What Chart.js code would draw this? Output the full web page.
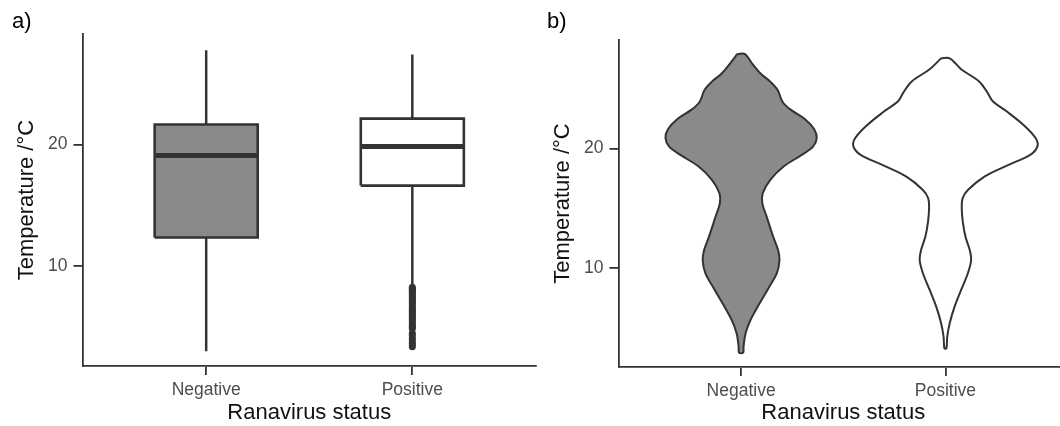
<!DOCTYPE html>
<html>
<head>
<meta charset="utf-8">
<script src="https://cdn.jsdelivr.net/npm/chart.js@4.4.1/dist/chart.umd.min.js"></script>
<style>
  html, body { margin: 0; padding: 0; background: #fff; overflow: hidden; width: 1060px; height: 426px; }
  .panel { position: absolute; top: 0; }
</style>
</head>
<body>
<div class="panel" style="left:0"><canvas id="boxChart" width="540" height="426"></canvas></div>
<div class="panel" style="left:535px"><canvas id="violinChart" width="535" height="426"></canvas></div>
<script>
const categories = ['Negative', 'Positive'];
const yTicks = [10, 20];

// box plot summaries, °C
const whiskerLow = [2.97, 8.35];
const boxQ1 = [12.34, 16.62];
const boxMedian = [19.09, 19.84];
const boxQ3 = [21.65, 22.14];
const whiskerHigh = [27.77, 27.41];
const positiveOutliers = [8.25, 8.15, 8.05, 7.95, 7.85, 7.7, 7.6, 7.45, 7.3, 7.2, 7.05, 6.95, 6.8, 6.65,
  6.5, 6.4, 6.25, 6.1, 5.95, 5.8, 5.7, 5.55, 5.4, 5.25, 5.1, 4.95, 4.85, 4.45, 4.3, 4.05, 3.85, 3.65, 3.5, 3.35];

// violin outlines: temperature and half width (in category units)
const negativeTemp = [27.92, 27.14, 26.30, 25.60, 24.90, 23.87, 23.23, 22.45, 21.61, 20.85, 20.15, 19.46, 18.48,
  17.36, 16.24, 15.40, 14.29, 12.61, 11.49, 10.65, 9.54, 8.28, 7.02, 5.62, 4.51, 3.39, 2.89];
const negativeWidth = [0.018, 0.053, 0.094, 0.143, 0.179, 0.204, 0.244, 0.313, 0.358, 0.370, 0.352, 0.297, 0.208,
  0.143, 0.106, 0.104, 0.125, 0.157, 0.181, 0.188, 0.175, 0.134, 0.091, 0.046, 0.022, 0.012, 0.010];
const positiveTemp = [27.56, 26.64, 25.60, 24.62, 23.93, 23.09, 21.97, 20.85, 20.15, 19.46, 18.62, 17.64, 16.52,
  15.82, 14.98, 13.87, 12.61, 11.49, 10.65, 9.54, 8.14, 6.74, 5.35, 4.23, 3.25];
const positiveWidth = [0.021, 0.077, 0.166, 0.208, 0.233, 0.301, 0.382, 0.442, 0.450, 0.415, 0.309, 0.191, 0.110,
  0.084, 0.080, 0.085, 0.098, 0.119, 0.126, 0.110, 0.077, 0.045, 0.021, 0.009, 0.005];

const INK = '#333333';
const GREY = '#8a8a8a';
const BOX_HALF = 0.25;

Chart.defaults.font.family = '"Liberation Sans", Arial, sans-serif';

function lineSet(data, opts) {
  return Object.assign({
    data, borderColor: INK, borderWidth: 2.5, pointRadius: 0, fill: false,
    tension: 0, borderCapStyle: 'butt', borderJoinStyle: 'miter',
  }, opts);
}

function scalesFor(yMin, yMax, yWidth, xHeight, yTitlePad) {
  return {
    x: {
      type: 'linear', min: 0.4, max: 2.6,
      afterBuildTicks: s => { s.ticks = categories.map((c, i) => ({ value: i + 1 })); },
      afterFit: s => { s.height = xHeight; },
      ticks: { callback: v => categories[v - 1], color: '#4d4d4d', font: { size: 17.5 }, padding: 5, maxRotation: 0 },
      grid: { drawOnChartArea: false, tickLength: 9, tickColor: INK, lineWidth: 1.8 },
      border: { color: INK, width: 1.8 },
      title: { display: true, text: 'Ranavirus status', color: '#111', font: { size: 22 }, padding: { top: 0, bottom: 0 } },
    },
    y: {
      type: 'linear', min: yMin, max: yMax,
      afterBuildTicks: s => { s.ticks = yTicks.map(v => ({ value: v })); },
      afterFit: s => { s.width = yWidth; },
      ticks: { callback: v => String(v), color: '#4d4d4d', font: { size: 17.5 }, padding: 6 },
      grid: { drawOnChartArea: false, tickLength: 9, tickColor: INK, lineWidth: 1.8 },
      border: { color: INK, width: 1.8 },
      title: { display: true, text: 'Temperature /°C', color: '#111', font: { size: 22 }, padding: { top: yTitlePad, bottom: 0 } },
    },
  };
}

function panelTitle(text, bottomPad) {
  return { display: true, text, align: 'start', color: '#000', font: { size: 22, weight: 'normal', lineHeight: 1.1 }, padding: { top: 10, bottom: bottomPad } };
}

// panel a: box plots
const boxSets = [];
categories.forEach((c, i) => {
  const x = i + 1;
  boxSets.push(lineSet([{ x: x - BOX_HALF, y: boxMedian[i] }, { x: x + BOX_HALF, y: boxMedian[i] }], { borderWidth: 5, order: 1 }));
  boxSets.push(lineSet([{ x, y: boxQ3[i] }, { x, y: whiskerHigh[i] }], { order: 2 }));
  boxSets.push(lineSet([{ x, y: boxQ1[i] }, { x, y: whiskerLow[i] }], { order: 2 }));
  boxSets.push(lineSet([
    { x: x - BOX_HALF, y: boxQ1[i] }, { x: x + BOX_HALF, y: boxQ1[i] }, { x: x + BOX_HALF, y: boxQ3[i] },
    { x: x - BOX_HALF, y: boxQ3[i] }, { x: x - BOX_HALF, y: boxQ1[i] },
  ], { fill: 'shape', backgroundColor: i === 0 ? GREY : '#ffffff', borderWidth: 2.6, order: 3 }));
});
boxSets.push({
  type: 'scatter', order: 0,
  data: positiveOutliers.map(v => ({ x: 2, y: v })),
  pointRadius: 3.5, pointBackgroundColor: INK, pointBorderWidth: 0, showLine: false,
});

new Chart(document.getElementById('boxChart'), {
  type: 'line',
  data: { datasets: boxSets },
  options: {
    responsive: false, animation: false, events: [],
    layout: { padding: { left: 12, right: 1.3, top: 0, bottom: 0 } },
    plugins: { legend: { display: false }, tooltip: { enabled: false }, title: panelTitle('a)', 0) },
    scales: scalesFor(1.76, 29.09, 70.5, 60, 1.5),
  },
});

// panel b: violins
function violinPoints(center, temps, widths) {
  const left = temps.map((t, i) => ({ x: center - widths[i], y: t }));
  const right = temps.map((t, i) => ({ x: center + widths[i], y: t })).reverse();
  return left.concat(right, [left[0]]);
}

new Chart(document.getElementById('violinChart'), {
  type: 'line',
  data: {
    datasets: [
      lineSet(violinPoints(1, negativeTemp, negativeWidth), { fill: 'shape', backgroundColor: GREY, borderWidth: 2, tension: 0.35, borderJoinStyle: 'round' }),
      lineSet(violinPoints(2, positiveTemp, positiveWidth), { fill: 'shape', backgroundColor: '#ffffff', borderWidth: 2, tension: 0.35, borderJoinStyle: 'round' }),
    ],
  },
  options: {
    responsive: false, animation: false, events: [],
    layout: { padding: { left: 12, right: 2, top: 0, bottom: 0 } },
    plugins: { legend: { display: false }, tooltip: { enabled: false }, title: panelTitle('b)', 5.8) },
    scales: scalesFor(1.68, 29.09, 71.5, 59, 3),
  },
});
</script>
</body>
</html>
